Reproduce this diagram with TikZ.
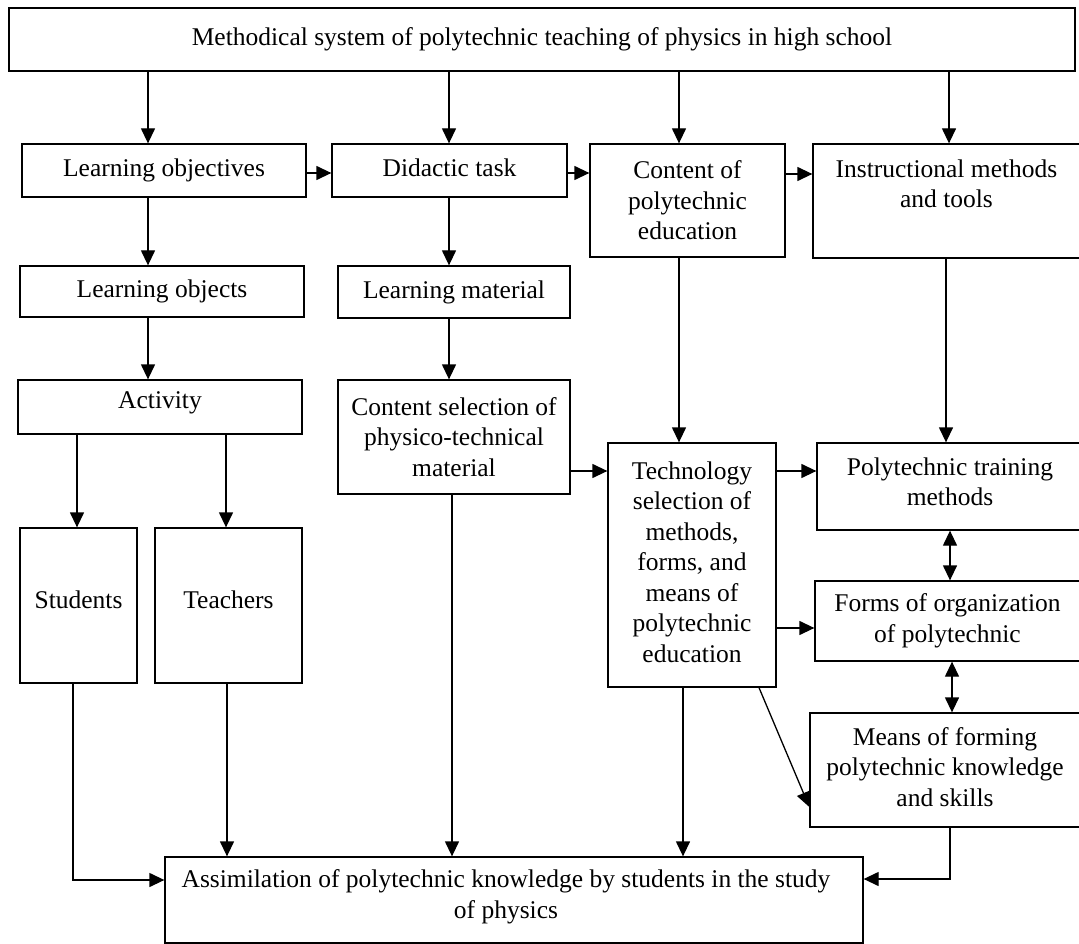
\documentclass[tikz,border=0pt]{standalone}
\usepackage{fontspec}
\setmainfont{Liberation Serif}
\usetikzlibrary{arrows.meta}
\begin{document}
\begin{tikzpicture}[x=1pt,y=-1pt,
  box/.style={draw,line width=1.3pt,inner sep=0pt,align=center,
    font=\fontsize{25.5}{30.5}\selectfont},
  txt/.style={inner sep=0pt,align=center,font=\fontsize{25.5}{30.5}\selectfont},
  arr/.style={line width=1.3pt,-{Triangle[length=15pt,width=14pt]}},
  darr/.style={line width=1.3pt,{Triangle[length=15pt,width=14pt]}-{Triangle[length=15pt,width=14pt]}}]
\useasboundingbox (0,0) rectangle (1079,944);
% boxes
\node[box,minimum width=1066pt,minimum height=63pt] (top) at (542,39.5) {Methodical system of polytechnic teaching of physics in high school};
\node[box,minimum width=284pt,minimum height=53pt] (lobj) at (164,170.5) {Learning objectives};
\node[box,minimum width=235pt,minimum height=53pt] (did) at (449.5,170.5) {Didactic task\vphantom{gj}};
\node[box,minimum width=195pt,minimum height=113pt] (cont) at (687.5,200.5) {Content of\\polytechnic\\education};
\node[box,minimum width=267pt,minimum height=114pt] (instr) at (946.5,201) {};
\node[txt] (instrtxt) at (946.5,184) {Instructional methods\\and tools};
\node[box,minimum width=284pt,minimum height=51pt] (lobs) at (162,291.5) {Learning objects};
\node[box,minimum width=232pt,minimum height=52pt] (lmat) at (454,292) {Learning material};
\node[box,minimum width=284pt,minimum height=54pt] (act) at (160,407) {};
\node[txt] (acttxt) at (160,403) {Activity};
\node[box,minimum width=232pt,minimum height=114pt] (csel) at (454,437) {Content selection of\\physico-technical\\material};
\node[box,minimum width=117pt,minimum height=155pt] (stud) at (78.5,605.5) {};
\node[txt] (studtxt) at (78.5,600) {Students};
\node[box,minimum width=147pt,minimum height=155pt] (teach) at (228.5,605.5) {};
\node[txt] (teachtxt) at (228.5,600) {Teachers};
\node[box,minimum width=168pt,minimum height=244pt] (tech) at (692,565) {};
\node[txt] (techtxt) at (692,562) {Technology\\selection of\\methods,\\forms, and\\means of\\polytechnic\\education};
\node[box,minimum width=263pt,minimum height=87pt] (ptm) at (948.5,486.5) {};
\node[txt] (ptmtxt) at (950,482) {Polytechnic training\\methods};
\node[box,minimum width=265pt,minimum height=80pt] (forms) at (947.5,621) {Forms of organization\\of polytechnic};
\node[box,minimum width=270pt,minimum height=114pt] (means) at (945,770) {};
\node[txt] (meanstxt) at (945,767) {Means of forming\\polytechnic knowledge\\and skills};
\node[box,minimum width=698pt,minimum height=86pt] (assim) at (514,900) {};
\node[txt] (assimtxt) at (506,897) {Assimilation of polytechnic knowledge by students in the study\\of physics};
% connectors
\draw[arr] (top.south -| 148,0) -- (lobj.north -| 148,0);
\draw[arr] (top.south -| 449,0) -- (did.north -| 449,0);
\draw[arr] (top.south -| 679,0) -- (cont.north -| 679,0);
\draw[arr] (top.south -| 949,0) -- (instr.north -| 949,0);
\draw[arr] (lobj.east |- 0,173) -- (did.west |- 0,173);
\draw[arr] (did.east |- 0,173) -- (cont.west |- 0,173);
\draw[arr] (cont.east |- 0,174) -- (instr.west |- 0,174);
\draw[arr] (lobj.south -| 148,0) -- (lobs.north -| 148,0);
\draw[arr] (did.south -| 449,0) -- (lmat.north -| 449,0);
\draw[arr] (lobs.south -| 148,0) -- (act.north -| 148,0);
\draw[arr] (lmat.south -| 449,0) -- (csel.north -| 449,0);
\draw[arr] (act.south -| 77,0) -- (stud.north -| 77,0);
\draw[arr] (act.south -| 226,0) -- (teach.north -| 226,0);
\draw[arr] (stud.south -| 73,0) |- (assim.west |- 0,880);
\draw[arr] (teach.south -| 227,0) -- (assim.north -| 227,0);
\draw[arr] (csel.south -| 452,0) -- (assim.north -| 452,0);
\draw[arr] (cont.south -| 679,0) -- (tech.north -| 679,0);
\draw[arr] (csel.east |- 0,471) -- (tech.west |- 0,471);
\draw[arr] (instr.south -| 946,0) -- (ptm.north -| 946,0);
\draw[arr] (tech.east |- 0,471) -- (ptm.west |- 0,471);
\draw[darr] (ptm.south -| 950,0) -- (forms.north -| 950,0);
\draw[arr] (tech.east |- 0,628) -- (forms.west |- 0,628);
\draw[darr] (forms.south -| 952,0) -- (means.north -| 952,0);
\draw[arr] (tech.south -| 759,0) -- (means.west |- 0,807);
\draw[arr] (tech.south -| 683,0) -- (assim.north -| 683,0);
\draw[arr] (means.south -| 950,0) |- (assim.east |- 0,879);
\end{tikzpicture}
\end{document}
